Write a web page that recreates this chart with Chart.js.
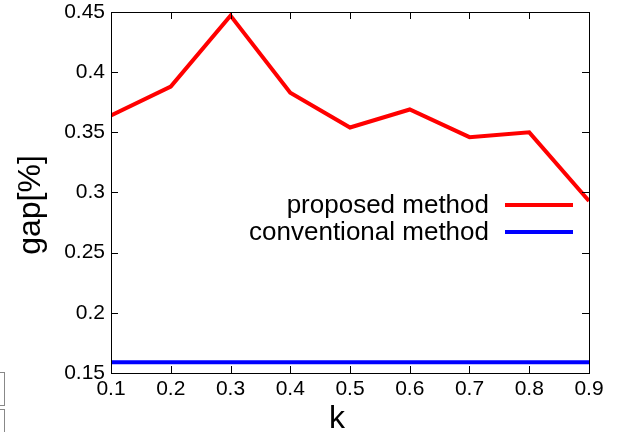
<!DOCTYPE html>
<html>
<head>
<meta charset="utf-8">
<script src="https://cdn.jsdelivr.net/npm/chart.js@4.4.0/dist/chart.umd.min.js"></script>
<style>
    body { margin: 0; background: #fff; }
    #wrap { position: relative; width: 620px; height: 432px; overflow: hidden; }
    .box { position: absolute; left: -10px; width: 13px; border: 1px solid #888; background: #fff; }
</style>
</head>
<body>
<div id="wrap">
    <canvas id="myChart" width="620" height="432"></canvas>
    <div class="box" style="top:372px;height:32px;"></div>
    <div class="box" style="top:409px;height:30px;"></div>
</div>
<script>
const kValues = [0.1, 0.2, 0.3, 0.4, 0.5, 0.6, 0.7, 0.8, 0.9];
const proposed = [0.364, 0.388, 0.447, 0.383, 0.354, 0.369, 0.346, 0.350, 0.293];
const conventional = [0.159, 0.159, 0.159, 0.159, 0.159, 0.159, 0.159, 0.159, 0.159];
const seriesNames = ['proposed method', 'conventional method'];
const xTitle = 'k';
const yTitle = 'gap[%]';

const font = 'Liberation Sans, Arial, sans-serif';

function toPoints(ys) {
    return kValues.map((k, i) => ({ x: k, y: ys[i] }));
}

// inward ticks, frame, axis titles and the legend inside the plot
const framePlugin = {
    id: 'frame',
    afterDraw(chart) {
        const ctx = chart.ctx;
        const a = chart.chartArea;
        const xs = chart.scales.x;
        const ys = chart.scales.y;
        const len = 7;
        ctx.save();
        ctx.strokeStyle = '#000';
        ctx.lineWidth = 1;
        ctx.beginPath();
        xs.ticks.forEach(t => {
            const px = Math.round(xs.getPixelForValue(t.value)) + 0.5;
            ctx.moveTo(px, a.bottom);
            ctx.lineTo(px, a.bottom - len);
            ctx.moveTo(px, a.top);
            ctx.lineTo(px, a.top + len);
        });
        ys.ticks.forEach(t => {
            const py = Math.round(ys.getPixelForValue(t.value)) + 0.5;
            ctx.moveTo(a.left, py);
            ctx.lineTo(a.left + len, py);
            ctx.moveTo(a.right, py);
            ctx.lineTo(a.right - len, py);
        });
        ctx.stroke();
        ctx.strokeRect(Math.round(a.left) + 0.5, Math.round(a.top) + 0.5,
            Math.round(a.right - a.left), Math.round(a.bottom - a.top));

        // axis titles
        ctx.fillStyle = '#000';
        ctx.font = '32px ' + font;
        ctx.textAlign = 'center';
        ctx.textBaseline = 'alphabetic';
        ctx.fillText(xTitle, 337, 428);
        ctx.save();
        ctx.translate(40, 205);
        ctx.rotate(-Math.PI / 2);
        ctx.fillText(yTitle, 0, 0);
        ctx.restore();

        // legend
        ctx.font = '26px ' + font;
        ctx.textAlign = 'right';
        ctx.textBaseline = 'middle';
        chart.data.datasets.forEach((ds, i) => {
            const y = 205 + i * 27;
            ctx.fillStyle = '#000';
            ctx.fillText(ds.label, 489, y + 1);
            ctx.strokeStyle = ds.borderColor;
            ctx.lineWidth = 4;
            ctx.beginPath();
            ctx.moveTo(505, y);
            ctx.lineTo(573, y);
            ctx.stroke();
        });
        ctx.restore();
    }
};

const ctx = document.getElementById('myChart').getContext('2d');
new Chart(ctx, {
    type: 'line',
    data: {
        datasets: [{
            label: seriesNames[0],
            data: toPoints(proposed),
            borderColor: '#ff0000',
            borderWidth: 4,
            pointRadius: 0,
            tension: 0
        }, {
            label: seriesNames[1],
            data: toPoints(conventional),
            borderColor: '#0000ff',
            borderWidth: 4,
            pointRadius: 0,
            tension: 0
        }]
    },
    options: {
        responsive: false,
        animation: false,
        layout: { padding: { left: 0, top: 0, right: 31, bottom: 0 } },
        plugins: { legend: { display: false }, tooltip: { enabled: false } },
        scales: {
            x: {
                type: 'linear',
                min: 0.1,
                max: 0.9,
                grid: { display: false, drawTicks: false },
                border: { display: false },
                ticks: {
                    stepSize: 0.1,
                    padding: 4,
                    color: '#000',
                    font: { family: font, size: 21 },
                    callback: v => String(+v.toFixed(1))
                },
                afterFit: s => { s.height = 59; }
            },
            y: {
                min: 0.15,
                max: 0.45,
                grid: { display: false, drawTicks: false },
                border: { display: false },
                ticks: {
                    stepSize: 0.05,
                    padding: 6,
                    color: '#000',
                    font: { family: font, size: 21 },
                    callback: v => String(+v.toFixed(2))
                },
                afterFit: s => {
                    s.width = 111;
                    s.paddingTop = 12;
                    s.paddingBottom = 0;
                }
            }
        }
    },
    plugins: [framePlugin]
});
</script>
</body>
</html>
